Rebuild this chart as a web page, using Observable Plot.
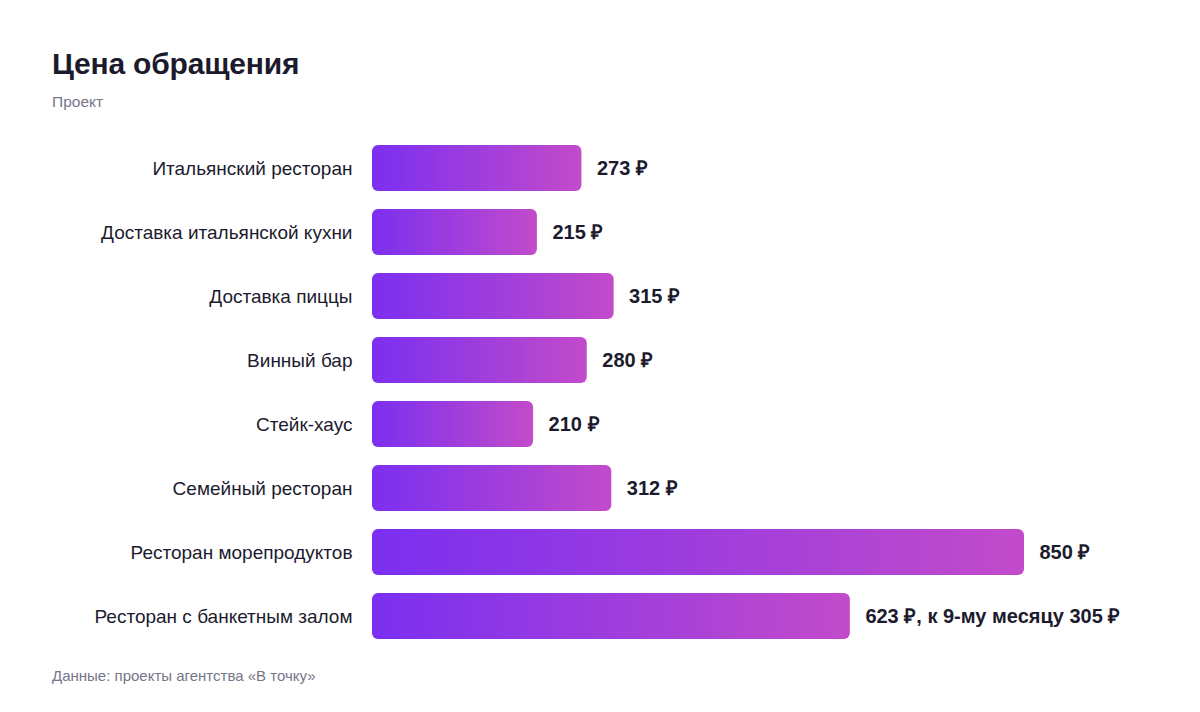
<!DOCTYPE html>
<html><head><meta charset="utf-8">
<script src="https://cdn.jsdelivr.net/npm/d3@7"></script>
<script src="https://cdn.jsdelivr.net/npm/@observablehq/plot@0.6"></script>
<style>
html,body{margin:0;padding:0;background:#fff;font-family:"Liberation Sans",Arial,sans-serif;}
#wrap{position:relative;width:1200px;height:712px;}
#title{position:absolute;left:52px;top:47px;font-size:30px;font-weight:bold;color:#1c1b2e;letter-spacing:-0.2px;}
#sub{position:absolute;left:52px;top:93px;font-size:15.5px;color:#76758a;}
#chart{position:absolute;left:0;top:120px;line-height:0;}
#chart svg{display:block;}
#foot{position:absolute;left:52px;top:667px;font-size:15px;color:#76758a;}
</style></head><body>
<div id="wrap">
<div id="title">Цена обращения</div>
<div id="sub">Проект</div>
<div id="chart"></div>
<div id="foot">Данные: проекты агентства «В точку»</div>
</div>
<script>
const categories = ["Итальянский ресторан","Доставка итальянской кухни","Доставка пиццы","Винный бар","Стейк-хаус","Семейный ресторан","Ресторан морепродуктов","Ресторан с банкетным залом"];
const values = [273,215,315,280,210,312,850,623];
const laterValues = [null,null,null,null,null,null,null,305];
const laterNote = "к 9-му месяцу";
const currency = "₽";

const data = categories.map((c,i)=>({
  cat:c, v:values[i],
  label: `${values[i]} ${currency}` + (laterValues[i]!=null ? `, ${laterNote} ${laterValues[i]} ${currency}` : "")
}));

const plot = Plot.plot({
  width:1200, height:538,
  marginLeft:372, marginRight:176, marginTop:16, marginBottom:10,
  style:{fontFamily:'"Liberation Sans",Arial,sans-serif', color:"#1c1b2e", background:"transparent"},
  x:{domain:[0,850], axis:null},
  y:{domain:categories, paddingInner:0.28, paddingOuter:0.14, label:null},
  marks:[
    Plot.axisY({tickSize:0, tickPadding:20, fontSize:19, label:null, fill:"#1c1b2e"}),
    Plot.barX(data,{x:"v", y:"cat", fill:"url(#barGrad)", rx:6}),
    Plot.text(data,{x:"v", y:"cat", text:"label", dx:15, textAnchor:"start", fontSize:20, fontWeight:"bold", fill:"#1c1b2e"})
  ]
});
const svg = d3.select(plot);
const defs = svg.insert("defs", ":first-child");
const g = defs.append("linearGradient").attr("id","barGrad").attr("x1","0").attr("x2","1").attr("y1","0").attr("y2","0");
g.append("stop").attr("offset","0%").attr("stop-color","#7b2ff0");
g.append("stop").attr("offset","100%").attr("stop-color","#c24bca");
document.getElementById("chart").appendChild(plot);
</script>
</body></html>
